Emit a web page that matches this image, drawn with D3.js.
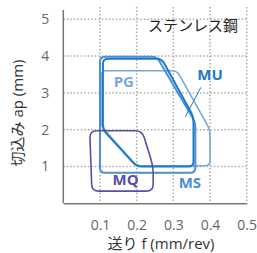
<!DOCTYPE html>
<html>
<head>
<meta charset="utf-8">
<script src="https://cdn.jsdelivr.net/npm/d3@7"></script>
<style>
  body { margin: 0; background: #fff; }
  text { font-family: "Open Sans", "Noto Sans CJK JP", sans-serif; }
</style>
</head>
<body>
<div id="chart"></div>
<script>
// axis ticks
var xTicks = [0.1, 0.2, 0.3, 0.4, 0.5];
var yTicks = [1, 2, 3, 4, 5];

// chipbreaker ranges: [feed, depth] outline points
var msArea = [[0.1, 0.83], [0.1, 3.98], [0.255, 3.98], [0.36, 2.2], [0.36, 0.83]];
var pgArea = [[0.103, 2.1], [0.103, 3.6], [0.31, 3.6], [0.4, 2.0], [0.4, 1.02], [0.2, 1.02]];
var muArea = [[0.108, 2.0], [0.108, 3.93], [0.268, 3.93], [0.355, 2.35], [0.355, 1.0], [0.2, 1.0]];
var mqArea = [[0.072, 1.97], [0.215, 1.97], [0.245, 1.0], [0.245, 0.33], [0.078, 0.33]];

var series = [
  {name: "PG", pts: pgArea, color: "#78a8df", width: 1.6, label: [0.165, 3.15]},
  {name: "MS", pts: msArea, color: "#4a8fd8", width: 2, label: [0.345, 0.42]},
  {name: "MU", pts: muArea, color: "#2279c8", width: 2, label: [0.4, 3.35]},
  {name: "MQ", pts: mqArea, color: "#5a4ea8", width: 1.6, label: [0.17, 0.5]}
];

var width = 257, height = 253;

var svg = d3.select("#chart")
  .append("svg")
    .attr("width", width)
    .attr("height", height);

var x = d3.scaleLinear().domain([0, 0.5]).range([63.3, 246.7]);
var y = d3.scaleLinear().domain([0, 5]).range([203.3, 19.3]);

// dotted grid
svg.append("g")
  .selectAll("line")
  .data(yTicks)
  .enter().append("line")
    .attr("x1", x(0)).attr("x2", x(0.5))
    .attr("y1", function(d) { return y(d); })
    .attr("y2", function(d) { return y(d); })
    .attr("stroke", "#aaa")
    .attr("stroke-width", 1.5)
    .attr("stroke-dasharray", "1.5,2");

svg.append("g")
  .selectAll("line")
  .data(xTicks)
  .enter().append("line")
    .attr("x1", function(d) { return x(d); })
    .attr("x2", function(d) { return x(d); })
    .attr("y1", 7).attr("y2", y(0))
    .attr("stroke", "#aaa")
    .attr("stroke-width", 1.5)
    .attr("stroke-dasharray", "1.5,2");

// axes
var xAxis = svg.append("g")
  .attr("transform", "translate(0," + y(0) + ")")
  .call(d3.axisBottom(x).tickValues(xTicks).tickSize(0).tickPadding(17).tickFormat(d3.format(".1f")));
xAxis.select(".domain").attr("stroke", "#777").attr("stroke-width", 1.5);
xAxis.selectAll("text").attr("font-size", 14).attr("fill", "#666");

var yAxis = svg.append("g")
  .attr("transform", "translate(" + x(0) + ",0)")
  .call(d3.axisLeft(y).tickValues(yTicks).tickSize(0).tickPadding(14).tickFormat(d3.format("d")));
yAxis.select(".domain").attr("stroke", "#777").attr("stroke-width", 1.5)
  .attr("d", "M0,10V" + y(0));
yAxis.selectAll("text").attr("font-size", 14).attr("fill", "#666");

// rounded polygon path in pixel space
function roundedPath(pts, r) {
  var p = pts.map(function(d) { return [x(d[0]), y(d[1])]; });
  var n = p.length, s = "";
  for (var i = 0; i < n; i++) {
    var a = p[(i - 1 + n) % n], b = p[i], c = p[(i + 1) % n];
    var l1 = Math.hypot(b[0] - a[0], b[1] - a[1]), l2 = Math.hypot(c[0] - b[0], c[1] - b[1]);
    var r1 = Math.min(r, l1 / 2), r2 = Math.min(r, l2 / 2);
    var p1 = [b[0] + (a[0] - b[0]) * r1 / l1, b[1] + (a[1] - b[1]) * r1 / l1];
    var p2 = [b[0] + (c[0] - b[0]) * r2 / l2, b[1] + (c[1] - b[1]) * r2 / l2];
    s += (i === 0 ? "M" : "L") + p1[0] + "," + p1[1] + "Q" + b[0] + "," + b[1] + " " + p2[0] + "," + p2[1];
  }
  return s + "Z";
}

svg.append("g")
  .selectAll("path")
  .data(series)
  .enter().append("path")
    .attr("d", function(d) { return roundedPath(d.pts, d.name == "MQ" ? 7 : 5); })
    .attr("fill", "none")
    .attr("stroke", function(d) { return d.color; })
    .attr("stroke-width", function(d) { return d.width; });

// MU leader
svg.append("line")
  .attr("x1", x(0.375)).attr("y1", y(3.15))
  .attr("x2", x(0.332)).attr("y2", y(2.34))
  .attr("stroke", "#2279c8").attr("stroke-width", 1);

svg.append("g")
  .selectAll("text")
  .data(series)
  .enter().append("text")
    .attr("x", function(d) { return x(d.label[0]); })
    .attr("y", function(d) { return y(d.label[1]); })
    .attr("text-anchor", "middle")
    .attr("font-size", 15)
    .attr("font-weight", "bold")
    .attr("fill", function(d) { return d.color; })
    .text(function(d) { return d.name; });

svg.append("text")
  .attr("x", 238).attr("y", 31)
  .attr("text-anchor", "end")
  .attr("font-size", 15)
  .attr("fill", "#222")
  .text("ステンレス鋼");

svg.append("text")
  .attr("x", 161).attr("y", 249)
  .attr("text-anchor", "middle")
  .attr("font-size", 15)
  .attr("fill", "#333")
  .text("送り f (mm/rev)");

svg.append("text")
  .attr("transform", "translate(23,113) rotate(-90)")
  .attr("text-anchor", "middle")
  .attr("font-size", 15)
  .attr("fill", "#333")
  .text("切込み ap (mm)");
</script>
</body>
</html>
